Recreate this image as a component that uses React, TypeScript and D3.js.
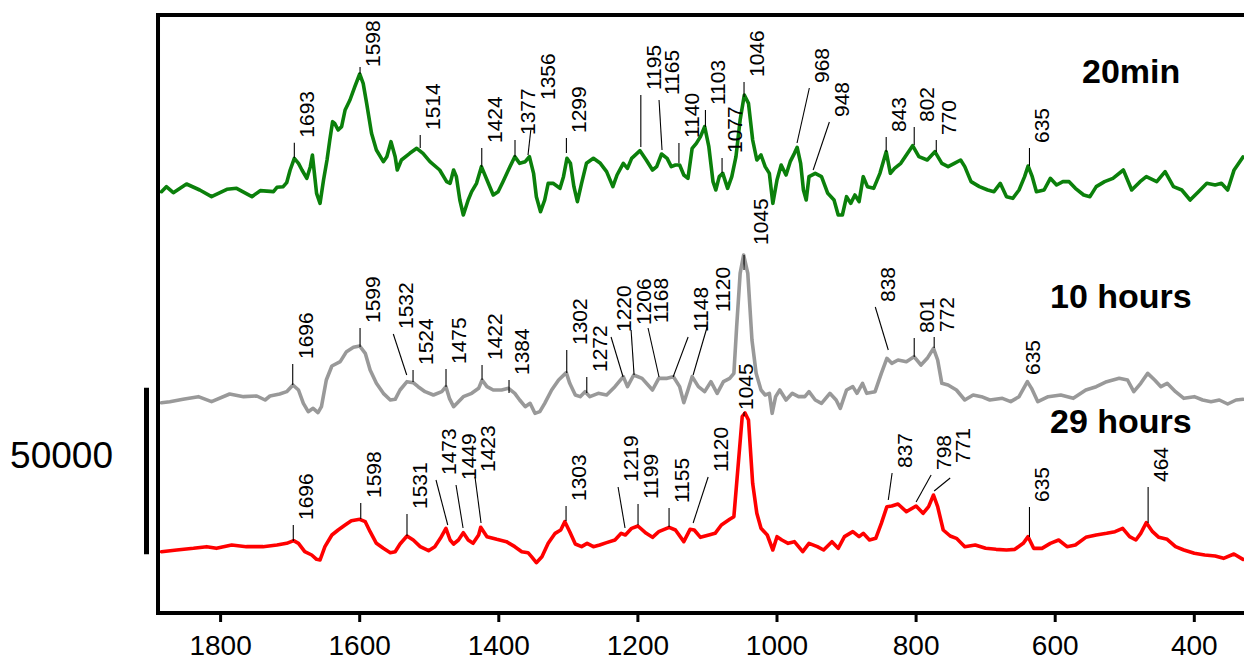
import React from 'react';
import * as d3 from 'd3';

// ---------- data (values in thousands of counts, relative to each trace's baseline) ----------
const WN_TICKS = [1800, 1600, 1400, 1200, 1000, 800, 600, 400];
const SERIES_NAMES = ['20min', '10 hours', '29 hours'];
const SERIES_COLORS = ['#0b800b', '#999999', '#ff0000'];
const SERIES_OFFSETS = [127.5, 63.9, 19.5];
const SCALE_BAR_VALUE = 50; // 50000 counts
const SCALE_BAR_BASE = 17.6;
const SCALE_BAR_LABEL = '50000';

const GREEN: [number, number][] = [
[1885,-1.1],[1878,0.4],[1868,-1.4],[1849,1.2],[1830,-0.6],[1813,-2.6],[1791,-0.4],[1777,-0.1],[1755,-2.6],[1743,-0.8],[1724,-1.1],[1719,0.2],[1710,0.4],[1705,1.6],[1700,5.4],[1694,8.9],[1688,7.4],[1683,5.4],[1676,2.9],[1671,6.4],[1668,9.9],[1662,-1.6],[1657,-4.6],[1652,2.4],[1647,8.4],[1643,14.4],[1639,19.9],[1636,19.4],[1631,17.4],[1626,18.4],[1621,23.4],[1614,26.4],[1607,30.4],[1600,34.2],[1595,31.4],[1590,25.4],[1583,16.4],[1576,11.4],[1566,7.9],[1561,9.4],[1555,13.9],[1549,9.4],[1546,5.4],[1540,8.4],[1528,10.4],[1518,11.9],[1509,10.4],[1499,7.9],[1485,5.4],[1475,1.9],[1470,1.4],[1465,5.4],[1461,3.4],[1456,-3.6],[1451,-8.1],[1444,-3.6],[1439,-1.1],[1432,1.4],[1425,6.4],[1417,2.4],[1408,-2.1],[1401,-1.1],[1394,1.9],[1384,6.4],[1377,9.4],[1370,7.4],[1362,7.9],[1356,9.4],[1350,4.4],[1346,-2.6],[1340,-7.1],[1334,-3.6],[1329,1.4],[1322,1.4],[1312,-0.1],[1307,3.4],[1302,8.9],[1297,7.4],[1292,0.4],[1287,-4.1],[1281,1.4],[1274,7.4],[1264,8.9],[1254,7.4],
[1245,4.9],[1236,0.4],[1230,3.9],[1221,7.4],[1215,5.9],[1209,8.9],[1197,11.2],[1188,8.4],[1179,5.4],[1173,6.4],[1166,10.2],[1158,8.9],[1152,6.4],[1146,6.9],[1140,6.9],[1134,3.9],[1128,2.9],[1122,11.9],[1116,13.4],[1110,15.4],[1104,18.4],[1098,12.4],[1092,1.9],[1088,-0.6],[1083,3.4],[1078,4.4],[1071,-0.1],[1065,3.4],[1059,9.4],[1053,20.4],[1047,27.9],[1041,25.4],[1035,14.4],[1029,8.4],[1023,9.9],[1017,6.4],[1011,4.4],[1006,-4.6],[1000,2.4],[994,6.9],[987,3.9],[981,7.9],[975,10.4],[971,12.2],[966,7.4],[962,-0.6],[958,-3.6],[954,3.4],[945,4.4],[936,3.4],[927,-1.6],[918,-3.6],[912,-8.1],[906,-8.1],[900,-2.6],[894,-4.6],[888,-2.1],[882,-4.1],[876,3.4],[870,0.4],[861,-0.1],[852,4.4],[843,10.9],[837,4.4],[831,5.9],[822,7.4],[814,9.9],[805,12.7],[796,9.4],[784,8.4],[773,10.9],[763,7.4],[754,6.4],[745,7.4],[736,8.4],[730,6.4],[721,1.9],[709,0.4],[697,-0.6],[688,-1.1],[679,1.4],[670,-2.6],[661,-3.1],[652,-0.6],[644,3.4],[639,6.6],[633,3.4],[627,-1.1],[616,-0.6],[607,2.9],[598,0.9],[589,1.9],[580,1.9],[571,-0.1],[559,-2.1],[550,-2.6],[541,0.4],[529,1.9],[517,2.9],[502,5.4],[490,-0.6],[478,1.9],[469,3.4],[454,1.9],[442,4.9],[430,0.4],[418,-0.6],[406,-3.6],[394,-1.1],[382,1.4],[370,0.9],[361,1.4],[352,-0.6],[343,5.3],[330,9.3]
];

const GRAY: [number, number][] = [
[1885,-0.8],[1873,-0.5],[1854,0.2],[1832,1.0],[1813,-0.5],[1787,1.8],[1767,1.0],[1748,1.2],[1736,0.0],[1729,1.2],[1715,1.8],[1705,2.5],[1696,4.5],[1688,3.0],[1681,-1.0],[1674,-3.5],[1667,-2.5],[1660,-3.8],[1655,-2.0],[1648,6.0],[1640,10.2],[1628,11.5],[1619,14.5],[1609,15.8],[1600,16.2],[1592,14.0],[1585,9.0],[1576,5.0],[1566,2.0],[1556,0.0],[1549,0.2],[1542,3.0],[1532,5.5],[1523,5.2],[1516,4.0],[1506,2.5],[1494,1.5],[1482,2.5],[1476,4.0],[1471,0.5],[1465,-2.0],[1458,-0.5],[1451,1.0],[1439,2.0],[1429,3.5],[1424,6.0],[1417,4.0],[1408,3.0],[1396,3.0],[1386,3.5],[1377,2.0],[1370,0.0],[1362,-2.0],[1355,-1.0],[1348,-4.0],[1341,-3.5],[1334,-1.0],[1324,3.0],[1314,6.0],[1303,8.2],[1298,5.0],[1290,1.5],[1283,1.0],[1276,2.5],[1269,1.0],[1257,2.0],
[1245,1.5],[1233,4.0],[1221,7.0],[1215,4.0],[1206,7.5],[1194,6.5],[1179,3.0],[1170,6.5],[1158,6.5],[1149,7.0],[1140,4.0],[1134,-0.8],[1128,3.0],[1122,7.0],[1113,4.0],[1104,2.5],[1095,5.5],[1086,2.0],[1077,5.5],[1068,6.5],[1062,8.0],[1058,22.0],[1053,38.0],[1048,43.5],[1042,38.0],[1036,18.0],[1030,8.0],[1023,3.0],[1017,1.5],[1011,2.0],[1007,-4.0],[1002,1.0],[996,3.0],[987,0.0],[978,2.0],[969,1.0],[960,1.0],[954,2.5],[945,0.0],[936,-1.0],[924,2.0],[915,0.0],[909,-2.5],[900,3.0],[891,4.0],[885,2.0],[877,5.0],[871,2.0],[859,2.5],[850,8.0],[842,12.5],[835,11.0],[826,12.0],[814,11.5],[803,13.0],[793,10.5],[784,12.5],[775,15.5],[769,12.0],[763,5.0],[754,4.5],[742,3.0],[730,0.0],[718,1.5],[706,1.0],[694,0.0],[676,0.5],[664,-0.5],[652,1.0],[640,5.5],[634,3.5],[625,-0.5],[610,1.0],[592,1.5],[574,0.5],[556,3.0],[541,4.0],[526,5.5],[508,6.5],[496,6.0],[487,2.5],[477,5.0],[467,8.0],[457,6.0],[448,4.0],[439,5.0],[427,2.5],[415,0.5],[400,1.0],[388,0.0],[376,-0.5],[364,0.0],[352,-1.2],[340,0.0],[330,0.2]
];

const RED: [number, number][] = [
[1885,-1.1],[1863,-0.6],[1839,-0.1],[1820,0.4],[1806,-0.1],[1784,0.9],[1763,0.4],[1739,0.4],[1719,0.9],[1705,1.4],[1695,2.2],[1688,1.4],[1679,-1.1],[1669,-2.1],[1662,-3.4],[1657,-3.6],[1650,0.4],[1640,3.9],[1631,5.4],[1621,6.9],[1612,8.2],[1600,8.6],[1592,7.9],[1585,4.9],[1576,1.4],[1566,-0.1],[1556,-1.4],[1549,-1.1],[1542,1.2],[1532,3.6],[1523,2.4],[1513,0.4],[1501,-0.8],[1492,0.4],[1484,2.9],[1476,5.9],[1470,2.4],[1465,1.2],[1458,2.4],[1451,4.6],[1444,2.4],[1437,1.4],[1429,3.9],[1426,6.2],[1417,3.4],[1403,2.6],[1389,1.9],[1377,0.4],[1367,-1.1],[1358,-1.4],[1353,-2.6],[1346,-4.4],[1338,-2.6],[1329,1.4],[1319,4.4],[1311,5.4],[1305,7.9],[1298,4.9],[1290,1.2],[1281,0.4],[1273,1.4],[1264,0.4],[1255,0.9],
[1245,1.6],[1233,2.4],[1224,4.4],[1218,3.9],[1209,5.9],[1200,6.6],[1188,4.4],[1179,3.2],[1170,4.9],[1155,6.2],[1146,5.4],[1134,1.9],[1125,5.6],[1119,5.4],[1110,3.2],[1098,3.9],[1089,4.4],[1080,6.9],[1068,8.6],[1062,9.4],[1056,24.4],[1050,39.4],[1046,40.5],[1041,38.4],[1035,19.4],[1029,10.4],[1023,5.9],[1014,3.9],[1006,-0.6],[1000,3.4],[993,2.4],[984,1.4],[975,1.9],[963,-1.1],[954,1.4],[942,0.4],[933,-0.6],[921,1.9],[912,-0.1],[903,3.4],[891,4.9],[882,3.4],[876,4.4],[867,2.4],[858,2.9],[850,7.4],[842,12.4],[835,12.6],[826,13.2],[814,10.9],[800,12.6],[790,10.4],[782,12.4],[775,15.9],[769,12.4],[761,5.4],[751,3.6],[742,2.9],[730,0.4],[715,0.9],[700,-0.1],[685,-0.4],[670,-0.6],[658,-0.4],[646,1.4],[639,3.4],[631,-0.1],[619,-0.1],[607,1.4],[595,2.4],[583,0.4],[571,0.9],[556,3.2],[541,3.9],[526,4.4],[514,4.9],[503,5.9],[493,3.4],[484,2.4],[477,4.4],[469,7.6],[460,4.9],[451,3.2],[439,2.6],[427,0.4],[415,-0.6],[400,-1.6],[385,-2.1],[370,-2.4],[358,-3.1],[343,-1.8],[330,-3.4]
];

// peak annotations: [label, peak wn, leader bottom value, leader top wn, leader top value, label dx?, label dy?]
type Ann = [string, number, number, number, number, number?, number?];
const GREEN_PEAKS: Ann[] = [
['1693',1694,9.0,1694,13.6],['1598',1599.5,34.2,1599.5,36.3,20,0],['1514',1513,12.0,1513,15.9],
['1424',1424.5,6.3,1424.5,12.0],['1377',1376.7,9.3,1376.7,14.4],['1356',1358,9.9,1354,17.4,24,-30],
['1299',1302.8,10.5,1302.8,15.0],['1195',1195.8,12.3,1195.8,27.9],['1165',1165.3,11.4,1169.6,26.4],
['1140',1141,7.5,1141,13.5],['1103',1102.9,18.3,1102.9,23.4],['1077',1079,4.5,1079,9.0],
['1046',1047.4,27.3,1047.4,31.8],['968',971.2,13.5,953.5,30.0],['948',948,5.4,924.7,19.8],
['843',843,10.8,843,15.3],['802',802.7,12.9,802.7,18.3],['770',771,10.8,771,14.4],['635',637,6.6,637,12.0]
];
const GRAY_PEAKS: Ann[] = [
['1696',1696.3,4.5,1696.3,10.8],['1599',1599.5,15.9,1599.5,21.6],['1532',1532.4,7.5,1551.7,19.8],
['1524',1523.3,5.4,1523.3,9.0],['1475',1475.9,3.9,1475.9,9.3],['1422',1424.1,6.0,1424.1,10.5],
['1384',1385.3,2.1,1385.3,6.0],['1302',1302.3,8.1,1302.3,15.0],['1272',1273.5,2.1,1273.5,6.9],
['1220',1221.3,6.9,1238.6,18.9],['1206',1205.5,7.5,1209.8,21.0],['1168',1169.6,6.9,1185.4,21.6],
['1148',1149.4,6.9,1127.8,18.9],['1120',1120.6,7.5,1100.5,21.9,23,-15],['1045',1047.4,39.0,1047.4,43.5,24,-10],
['838',840,15.0,858.7,27.9],['801',802.7,12.9,802.7,18.6],['772',774,15.6,774,18.9],['635',636,6.0,636,6.0,10,-5]
];
const RED_PEAKS: Ann[] = [
['1696',1695.5,2.1,1695.5,6.9],['1598',1598.5,8.7,1598.5,13.5],['1531',1532,3.6,1532,10.2],
['1473',1473.4,6.9,1490.3,20.4],['1449',1451.4,6.0,1461.5,18.9],['1423',1425.5,7.5,1434.2,21.3],
['1303',1303.3,8.1,1303.3,12.6],['1219',1218.5,6.0,1228.5,18.3],['1199',1199.8,6.9,1199.8,13.2],
['1155',1155.2,6.3,1155.2,12.0],['1120',1120.6,7.5,1099,21.3],['1045',1047.4,39.6,1047.4,40.8,9,-2],
['837',840,14.4,834.5,22.5],['798',800,13.8,778.4,21.9],['771',774,17.1,751,21.0,20,-15],
['635',637,3.3,637,12.3],['464',466.4,7.5,466.4,18.3]
];

const SERIES = [GREEN, GRAY, RED];
const PEAKS = [GREEN_PEAKS, GRAY_PEAKS, RED_PEAKS];
const TITLE_POS: [number, number][] = [[1082, 83], [1050, 308], [1050, 433]];

const W = 1244;
const H = 661;
const FONT = '"Liberation Sans", Arial, Helvetica, sans-serif';

export default function App() {
  const x = d3.scaleLinear().domain([1800, 400]).range([220.6, 1194.3]);
  const y = d3.scaleLinear().domain([0, 179.4]).range([613, 15]);
  const line = d3.line<[number, number]>().x(d => x(d[0])).y(d => y(d[1]));

  const left = x(1890);
  const top = y(179.4);
  const bottom = y(0);

  return (
    <svg width={W} height={H} style={{ position: 'absolute', left: 0, top: 0, background: '#fff' }}
      fontFamily={FONT}>
      <rect x={0} y={0} width={W} height={H} fill="#fff" />
      {SERIES.map((data, i) => (
        <path key={i}
          d={line(data.map(([w, v]) => [w, SERIES_OFFSETS[i] + v] as [number, number])) || ''}
          fill="none" stroke={SERIES_COLORS[i]} strokeWidth={3.6}
          strokeLinejoin="round" strokeLinecap="round" />
      ))}
      {PEAKS.map((list, i) => list.map((a, j) => {
        const [t, pw, bv, tw, tv, dx = 20, dy = -5] = a;
        const off = SERIES_OFFSETS[i];
        const x1 = x(pw), y1 = y(off + bv), x2 = x(tw), y2 = y(off + tv);
        const bx = x2 + dx, by = y2 + dy;
        return (
          <g key={`${i}-${j}`}>
            {(x1 !== x2 || y1 !== y2) && (
              <line x1={x1} y1={y1} x2={x2} y2={y2} stroke="#000" strokeWidth={1.1} />
            )}
            <text transform={`translate(${bx},${by}) rotate(-90)`} fontSize={21} fill="#000">{t}</text>
          </g>
        );
      }))}
      {SERIES_NAMES.map((n, i) => (
        <text key={n} x={TITLE_POS[i][0]} y={TITLE_POS[i][1]} fontSize={34} fontWeight="bold" fill="#000">{n}</text>
      ))}
      <path d={`M${W + 10},${top} H${left} V${bottom} H${W + 10}`} fill="none" stroke="#000" strokeWidth={4} />
      {WN_TICKS.map(t => (
        <g key={t}>
          <line x1={x(t)} x2={x(t)} y1={bottom} y2={bottom + 9} stroke="#000" strokeWidth={3} />
          <text x={x(t)} y={655} textAnchor="middle" fontSize={28} fill="#000">{t}</text>
        </g>
      ))}
      <line x1={146.5} x2={146.5} y1={y(SCALE_BAR_BASE)} y2={y(SCALE_BAR_BASE + SCALE_BAR_VALUE)}
        stroke="#000" strokeWidth={5} />
      <text x={113} y={468} textAnchor="end" fontSize={37} fill="#000">{SCALE_BAR_LABEL}</text>
    </svg>
  );
}
